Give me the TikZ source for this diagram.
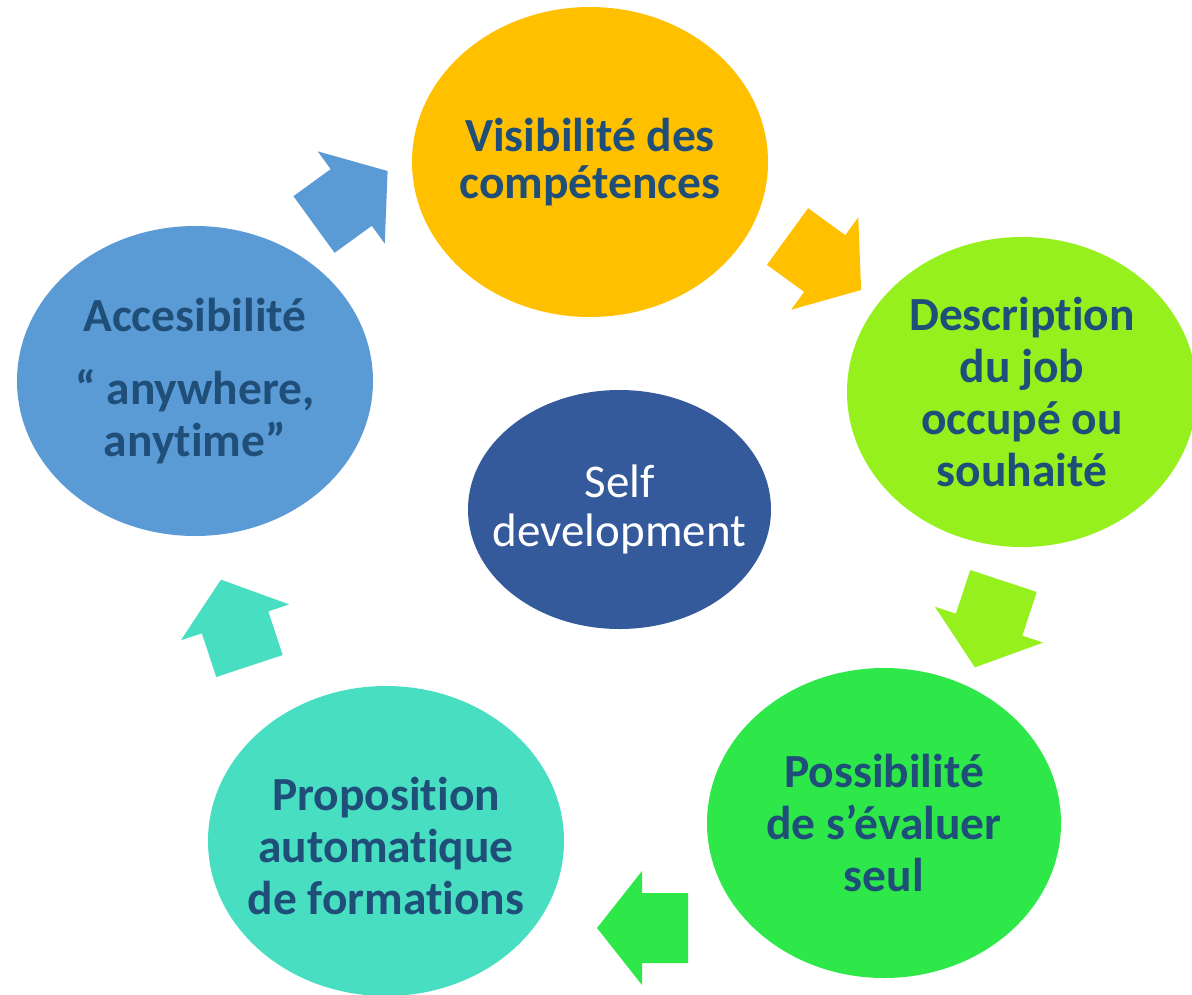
\documentclass[tikz,border=0pt]{standalone}
\usepackage{fontspec}
\setmainfont{Carlito}[Ligatures=NoCommon]
\usetikzlibrary{shapes.geometric}
\definecolor{cOrange}{HTML}{FFC000}
\definecolor{cLime}{HTML}{96F01E}
\definecolor{cGreen}{HTML}{2EE84A}
\definecolor{cTeal}{HTML}{48DEC1}
\definecolor{cBlue}{HTML}{5B9BD5}
\definecolor{cNavy}{HTML}{355A9C}
\definecolor{cText}{HTML}{1F4E79}
\begin{document}
\begin{tikzpicture}[x=1pt,y=-1pt,
  bubble/.style={ellipse, inner sep=0pt, minimum width=356pt, minimum height=310pt},
  btext/.style={inner sep=0pt, text=cText, font=\fontsize{47.5}{52}\selectfont\bfseries, align=center},
  blockarrow/.pic={\fill[#1] (0,-35) -- (46,-35) -- (46,-57) -- (91,0) -- (46,57) -- (46,35) -- (0,35) -- cycle;}]
\useasboundingbox[fill=white] (0,0) rectangle (1192,994);
% bubbles
\node[bubble, fill=cOrange] (vis) at (590,162) {};
\node[bubble, fill=cLime, minimum width=350pt] (desc) at (1022,392) {};
\node[bubble, fill=cGreen, minimum width=354pt] (poss) at (884,823) {};
\node[bubble, fill=cTeal] (prop) at (386,841) {};
\node[bubble, fill=cBlue] (acc) at (195,381) {};
\node[ellipse, inner sep=0pt, minimum width=303pt, minimum height=239pt, fill=cNavy] (self) at (619.5,509.5) {};
% texts
\node[btext, font=\fontsize{47.5}{47}\selectfont\bfseries] (visT) at (vis.center) {Visibilité des\\compétences};
\node[btext] (descT) at (desc.center) {Description\\du job\\occupé ou\\souhaité};
\node[btext] (possT) at (poss.center) {Possibilité\\de s’évaluer\\seul};
\node[btext] (propT) at ([yshift=-5pt]prop.center) {Proposition\\automatique\\de formations};
\node[btext] (accT) at (acc.center) {Accesibilité\\[21pt]“ anywhere,\\anytime”};
\node[btext, text=white, font=\fontsize{47}{49}\selectfont] (selfT) at (self.center) {Self\\development};
% block arrows (tail centre, direction)
\pic[rotate=36] at (314,224.5) {blockarrow=cBlue};
\pic[rotate=-36] at (787.5,236.5) {blockarrow=cOrange};
\pic[rotate=-108.3] at (1003.5,581) {blockarrow=cLime};
\pic[rotate=180] at (688,928) {blockarrow=cGreen};
\pic[rotate=108.3] at (249.5,666) {blockarrow=cTeal};
\end{tikzpicture}
\end{document}
